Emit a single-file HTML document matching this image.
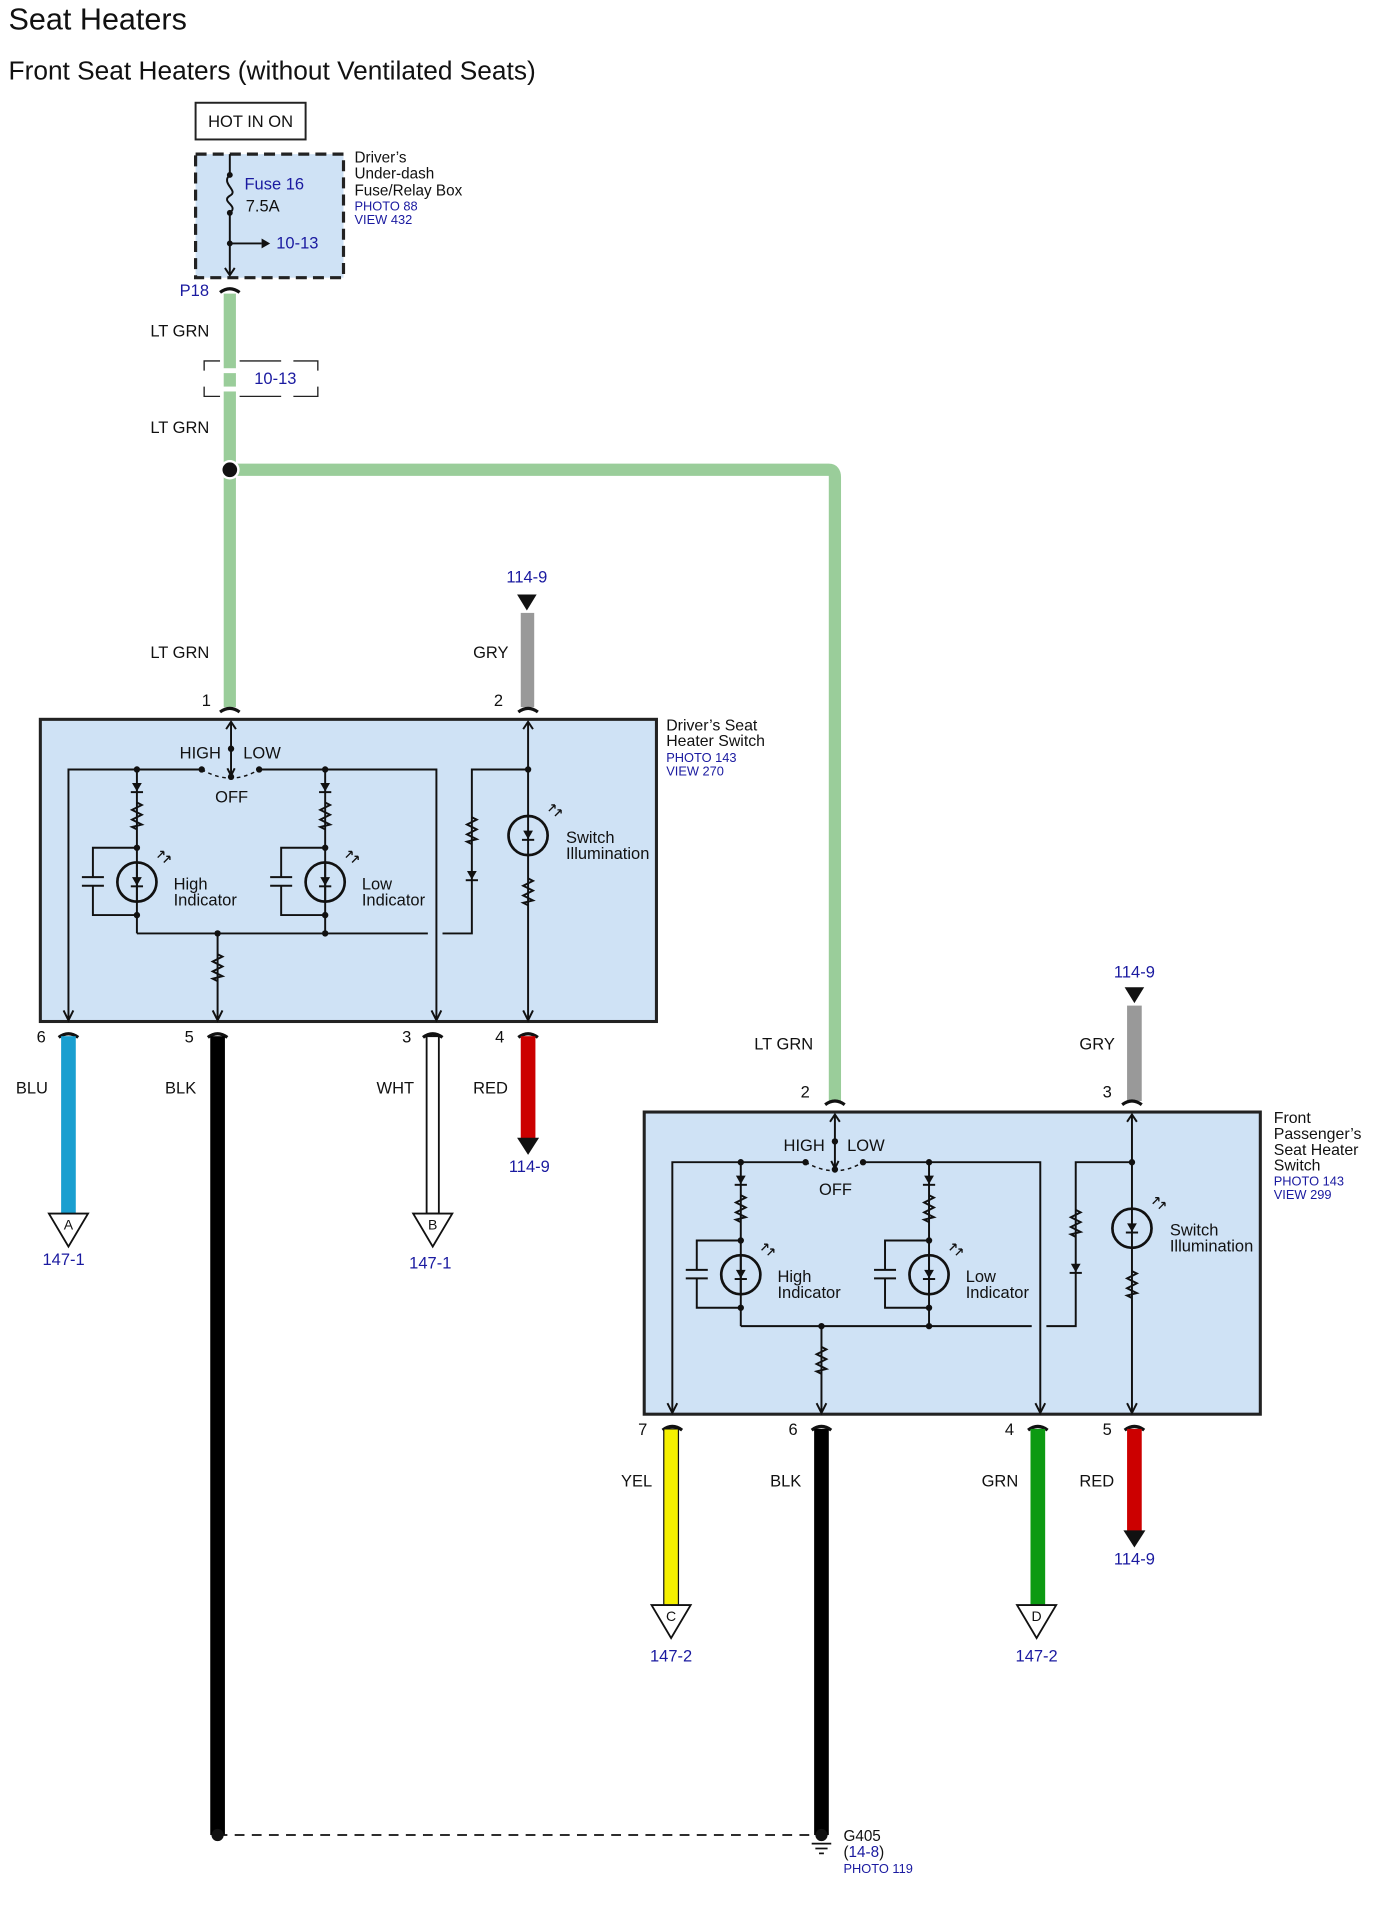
<!DOCTYPE html>
<html><head><meta charset="utf-8"><style>
html,body{margin:0;padding:0;background:#fff;}
svg{display:block;}
text{font-family:"Liberation Sans",sans-serif;}
.t{font-size:13.5px;fill:#111;}
.b{font-size:13.5px;fill:#1a1aa0;}
.s{font-size:10.5px;fill:#1a1aa0;}
.w{fill:none;stroke:#111;stroke-width:1.6;}
</style></head><body>
<svg width="1374" height="1917" viewBox="0 0 1124 1567" preserveAspectRatio="none" xmlns="http://www.w3.org/2000/svg">
<defs>
<g id="r"><polyline class="w" points="0,0 4,2 -4,6 4,10 -4,14 4,18 -4,20 0,22"/></g>
<g id="d"><polygon points="-4,-4 4,-4 0,3" fill="#111"/><line x1="-5" y1="3.5" x2="5" y2="3.5" stroke="#111" stroke-width="1.6"/></g>
<g id="led"><circle r="16" fill="none" stroke="#111" stroke-width="2.2"/><line x1="0" y1="-16" x2="0" y2="16" stroke="#111" stroke-width="1.6"/><use href="#d"/>
<path class="w" d="M17,-20 l5,-5 M22,-25 l-3,0 M22,-25 l0,3 M22,-16 l5,-5 M27,-21 l-3,0 M27,-21 l0,3" style="stroke-width:1.1"/></g>
<g id="sw">
<rect x="33" y="588" width="504" height="247" fill="#cfe2f5" stroke="#222" stroke-width="2.5"/>
<line class="w" x1="189" y1="590" x2="189" y2="633"/>
<polyline class="w" points="185,596 189,590 193,596"/>
<polyline class="w" points="186,628 189,634 192,628"/>
<circle cx="189" cy="612" r="2.6" fill="#111"/>
<circle cx="189" cy="635" r="2.6" fill="#111"/>
<path d="M165,629 Q189,643 212,629" fill="none" stroke="#111" stroke-width="1.2" stroke-dasharray="3,3"/>
<circle cx="165" cy="629" r="2.6" fill="#111"/><circle cx="212" cy="629" r="2.6" fill="#111"/>
<polyline class="w" points="165,629 56,629 56,833"/>
<polyline class="w" points="52,826 56,834 60,826"/>
<polyline class="w" points="212,629 357,629 357,833"/>
<polyline class="w" points="353,826 357,834 361,826"/>
<g id="br">
<circle cx="112" cy="629" r="2.6" fill="#111"/>
<line class="w" x1="112" y1="629" x2="112" y2="763"/>
<use href="#d" x="112" y="644"/>
<use href="#r" x="112" y="656"/>
<circle cx="112" cy="693" r="2.6" fill="#111"/>
<circle cx="112" cy="748" r="2.6" fill="#111"/>
<polyline class="w" points="112,693 76,693 76,717"/>
<polyline class="w" points="112,748 76,748 76,724"/>
<line class="w" x1="67" y1="717" x2="85" y2="717"/><line class="w" x1="67" y1="724" x2="85" y2="724"/>
<use href="#led" x="112" y="721"/>
</g>
<use href="#br" x="154"/>
<circle cx="266" cy="763" r="2.6" fill="#111"/>
<line class="w" x1="112" y1="763" x2="350" y2="763"/>
<polyline class="w" points="362,763 386,763 386,629 432,629"/>
<use href="#r" x="386" y="668"/>
<use href="#d" x="386" y="716"/>
<circle cx="178" cy="763" r="2.6" fill="#111"/>
<line class="w" x1="178" y1="763" x2="178" y2="833"/>
<use href="#r" x="178" y="780"/>
<polyline class="w" points="174,826 178,834 182,826"/>
<line class="w" x1="432" y1="590" x2="432" y2="833"/>
<polyline class="w" points="428,596 432,590 436,596"/>
<polyline class="w" points="428,826 432,834 436,826"/>
<circle cx="432" cy="629" r="2.6" fill="#111"/>
<circle cx="432" cy="683" r="16" fill="#cfe2f5" stroke="none"/>
<use href="#led" x="432" y="683"/>
<use href="#r" x="432" y="718"/>
</g>
<path id="cap" d="M-8,3 Q0,-3 8,3" fill="none" stroke="#111" stroke-width="2.6"/>
</defs>

<text x="7" y="24" style="font-size:25px" fill="#111">Seat Heaters</text>
<text x="7" y="65" style="font-size:21.5px" fill="#111">Front Seat Heaters (without Ventilated Seats)</text>

<rect x="160" y="84" width="90" height="30" fill="#fff" stroke="#222" stroke-width="1.6"/>
<text x="205" y="104" class="t" text-anchor="middle">HOT IN ON</text>

<rect x="160" y="126" width="121" height="101" fill="#cfe2f5" stroke="#222" stroke-width="2.6" stroke-dasharray="9,5"/>
<line class="w" x1="188" y1="126" x2="188" y2="143"/>
<path class="w" d="M188,143 C180,150 196,156 188,160 C180,165 196,168 188,174"/>
<circle cx="188" cy="143" r="2.4" fill="#111"/><circle cx="188" cy="174" r="2.4" fill="#111"/>
<line class="w" x1="188" y1="174" x2="188" y2="225"/>
<polyline class="w" points="184,219 188,225 192,219"/>
<circle cx="188" cy="199" r="2.4" fill="#111"/>
<line class="w" x1="188" y1="199" x2="214" y2="199"/>
<polygon points="214,195 221,199 214,203" fill="#111"/>
<text x="200" y="155" class="b">Fuse 16</text>
<text x="201" y="173" class="t">7.5A</text>
<text x="226" y="203" class="b">10-13</text>
<text x="290" y="133" class="t" style="font-size:12.5px">Driver’s</text>
<text x="290" y="146" class="t" style="font-size:12.5px">Under-dash</text>
<text x="290" y="160" class="t" style="font-size:12.5px">Fuse/Relay Box</text>
<text x="290" y="172" class="s">PHOTO 88</text>
<text x="290" y="183" class="s">VIEW 432</text>
<text x="147" y="242" class="b">P18</text>
<use href="#cap" x="188" y="236"/>

<path d="M188,240 V578" stroke="#9acd9a" stroke-width="10" fill="none"/>
<path d="M188,384 H678 Q683,384 683,390 V900" stroke="#9acd9a" stroke-width="10" fill="none"/>
<rect x="180" y="301" width="16" height="4" fill="#fff"/>
<rect x="180" y="316" width="16" height="4" fill="#fff"/>
<path d="M167,303 V295 H180 M196,295 H230 M240,295 H260 V303 M167,316 V324 H180 M196,324 H230 M240,324 H260 V316" fill="none" stroke="#222" stroke-width="1.1"/>
<text x="208" y="314" class="b">10-13</text>
<circle cx="188" cy="384" r="8" fill="#fff"/><circle cx="188" cy="384" r="6" fill="#111"/>
<text x="123" y="275" class="t">LT GRN</text>
<text x="123" y="354" class="t">LT GRN</text>
<text x="123" y="538" class="t">LT GRN</text>

<text x="431" y="476" class="b" text-anchor="middle">114-9</text>
<polygon points="423,486 439,486 431,499" fill="#111"/>
<rect x="426" y="501" width="11" height="77" fill="#999"/>
<text x="387" y="538" class="t">GRY</text>
<text x="165" y="577" class="t">1</text>
<text x="404" y="577" class="t">2</text>
<use href="#cap" x="188" y="579"/><use href="#cap" x="432" y="579"/>

<use href="#sw"/>
<text x="147" y="620" class="t">HIGH</text><text x="199" y="620" class="t">LOW</text><text x="176" y="656" class="t">OFF</text>
<text x="142" y="727" class="t">High</text><text x="142" y="740" class="t">Indicator</text>
<text x="296" y="727" class="t">Low</text><text x="296" y="740" class="t">Indicator</text>
<text x="463" y="689" class="t">Switch</text><text x="463" y="702" class="t">Illumination</text>
<text x="545" y="597" class="t" style="font-size:13px">Driver’s Seat</text>
<text x="545" y="610" class="t" style="font-size:13px">Heater Switch</text>
<text x="545" y="623" class="s">PHOTO 143</text>
<text x="545" y="634" class="s">VIEW 270</text>

<use href="#cap" x="56" y="845"/><use href="#cap" x="178" y="845"/><use href="#cap" x="354" y="845"/><use href="#cap" x="432" y="845"/>
<rect x="50" y="847" width="12" height="145" fill="#1a9fd0"/>
<polygon points="40,992 72,992 56,1019" fill="#fff" stroke="#111" stroke-width="1.5"/>
<text x="56" y="1005" class="t" text-anchor="middle" style="font-size:11.5px">A</text>
<text x="52" y="1034" class="b" text-anchor="middle">147-1</text>
<rect x="172" y="847" width="12" height="653" fill="#000"/>
<rect x="349" y="847" width="10" height="145" fill="#fff" stroke="#111" stroke-width="1.5"/>
<polygon points="338,992 370,992 354,1019" fill="#fff" stroke="#111" stroke-width="1.5"/>
<text x="354" y="1005" class="t" text-anchor="middle" style="font-size:11.5px">B</text>
<text x="352" y="1037" class="b" text-anchor="middle">147-1</text>
<rect x="426" y="847" width="12" height="84" fill="#cc0000"/>
<polygon points="423,930 441,930 432,944" fill="#111"/>
<text x="433" y="958" class="b" text-anchor="middle">114-9</text>
<text x="30" y="852" class="t">6</text><text x="151" y="852" class="t">5</text><text x="329" y="852" class="t">3</text><text x="405" y="852" class="t">4</text>
<text x="13" y="894" class="t">BLU</text><text x="135" y="894" class="t">BLK</text><text x="308" y="894" class="t">WHT</text><text x="387" y="894" class="t">RED</text>

<text x="617" y="858" class="t">LT GRN</text>
<text x="928" y="799" class="b" text-anchor="middle">114-9</text>
<polygon points="920,807 936,807 928,820" fill="#111"/>
<rect x="922" y="822" width="12" height="78" fill="#999"/>
<text x="883" y="858" class="t">GRY</text>
<text x="655" y="897" class="t">2</text><text x="902" y="897" class="t">3</text>
<use href="#cap" x="683" y="900"/><use href="#cap" x="926" y="900"/>
<g transform="translate(494,321)"><use href="#sw"/></g>
<text x="641" y="941" class="t">HIGH</text><text x="693" y="941" class="t">LOW</text><text x="670" y="977" class="t">OFF</text>
<text x="636" y="1048" class="t">High</text><text x="636" y="1061" class="t">Indicator</text>
<text x="790" y="1048" class="t">Low</text><text x="790" y="1061" class="t">Indicator</text>
<text x="957" y="1010" class="t">Switch</text><text x="957" y="1023" class="t">Illumination</text>
<text x="1042" y="918" class="t" style="font-size:13px">Front</text>
<text x="1042" y="931" class="t" style="font-size:13px">Passenger’s</text>
<text x="1042" y="944" class="t" style="font-size:13px">Seat Heater</text>
<text x="1042" y="957" class="t" style="font-size:13px">Switch</text>
<text x="1042" y="969" class="s">PHOTO 143</text>
<text x="1042" y="980" class="s">VIEW 299</text>

<use href="#cap" x="550" y="1166"/><use href="#cap" x="672" y="1166"/><use href="#cap" x="849" y="1166"/><use href="#cap" x="928" y="1166"/>
<rect x="543" y="1168" width="12" height="144" fill="#f5f000" stroke="#111" stroke-width="1"/>
<polygon points="533,1312 565,1312 549,1339" fill="#fff" stroke="#111" stroke-width="1.5"/>
<text x="549" y="1325" class="t" text-anchor="middle" style="font-size:11.5px">C</text>
<text x="549" y="1358" class="b" text-anchor="middle">147-2</text>
<rect x="666" y="1168" width="12" height="332" fill="#000"/>
<rect x="843" y="1168" width="12" height="144" fill="#0c9a12"/>
<polygon points="832,1312 864,1312 848,1339" fill="#fff" stroke="#111" stroke-width="1.5"/>
<text x="848" y="1325" class="t" text-anchor="middle" style="font-size:11.5px">D</text>
<text x="848" y="1358" class="b" text-anchor="middle">147-2</text>
<rect x="922" y="1168" width="12" height="84" fill="#cc0000"/>
<polygon points="919,1251 937,1251 928,1265" fill="#111"/>
<text x="928" y="1279" class="b" text-anchor="middle">114-9</text>
<text x="522" y="1173" class="t">7</text><text x="645" y="1173" class="t">6</text><text x="822" y="1173" class="t">4</text><text x="902" y="1173" class="t">5</text>
<text x="508" y="1215" class="t">YEL</text><text x="630" y="1215" class="t">BLK</text><text x="803" y="1215" class="t">GRN</text><text x="883" y="1215" class="t">RED</text>

<line x1="178" y1="1500" x2="668" y2="1500" stroke="#111" stroke-width="1.4" stroke-dasharray="8,6"/>
<circle cx="178" cy="1500" r="5" fill="#111"/>
<circle cx="672" cy="1500" r="5" fill="#111"/>
<line x1="664" y1="1507" x2="680" y2="1507" stroke="#111" stroke-width="1.4"/>
<line x1="667" y1="1511" x2="677" y2="1511" stroke="#111" stroke-width="1.4"/>
<line x1="670" y1="1515" x2="674" y2="1515" stroke="#111" stroke-width="1.4"/>
<text x="690" y="1505" class="t" style="font-size:12.5px">G405</text>
<text x="690" y="1518" class="t" style="font-size:12.5px">(<tspan fill="#1a1aa0">14-8</tspan>)</text>
<text x="690" y="1531" class="s">PHOTO 119</text>
</svg>
</body></html>
